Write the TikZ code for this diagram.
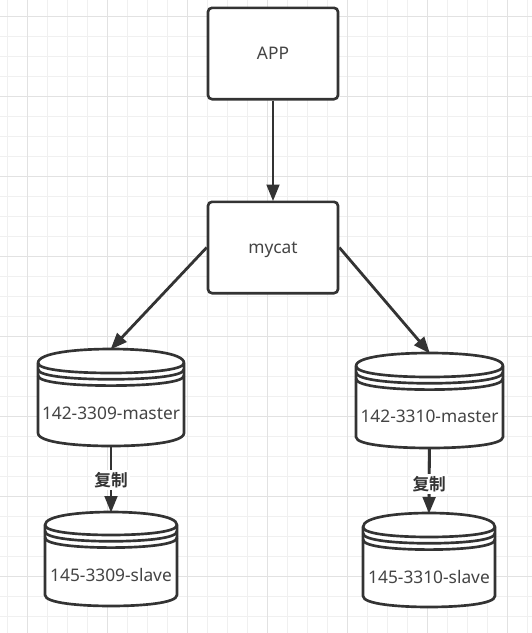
\documentclass[tikz,border=0pt]{standalone}
\usepackage{fontspec}
\setmainfont{Noto Sans}
\newfontfamily\cjkbold{Noto Sans CJK SC Bold}
\usetikzlibrary{arrows.meta}
\definecolor{ink}{HTML}{333333}
\definecolor{txt}{HTML}{444444}
\definecolor{gridminor}{HTML}{F0F0F0}
\definecolor{gridmajor}{HTML}{E2E2E2}
\tikzset{
  x=0.75pt,y=-0.75pt,
  shapeline/.style={draw=ink,line width=2pt,line join=round},
  box/.style={shapeline,fill=white,rounded corners=3pt,minimum width=97.5pt,minimum height=68.5pt,inner sep=0pt,font=\fontsize{13}{15}\selectfont,text=txt,text height=9.5pt,text depth=0.5pt},
  dbtext/.style={inner sep=0pt,font=\fontsize{13}{15}\selectfont,text=txt},
  link/.style={draw=ink,line width=2.1pt,-{Triangle[length=12.5pt,width=9.5pt]},shorten >=-0.5pt},
  edgetext/.style={fill=white,inner sep=1.5pt,text=ink,font=\cjkbold\fontsize{12.5}{15}\selectfont},
}
% name, x1, x2, top, side, ellipse bottom, side bottom, bottom
\newcommand{\dbcyl}[8]{%
  \pgfmathsetmacro{\cxx}{(#2+#3)/2}%
  \pgfmathsetmacro{\wk}{0.45*(#3-#2)/2}%
  \pgfmathsetmacro{\cu}{#5-0.75*(#5-#4)}%
  \pgfmathsetmacro{\cd}{#5+0.75*(#6-#5)}%
  \pgfmathsetmacro{\cb}{#7+0.75*(#8-#7)}%
  \draw[shapeline,fill=white] (#2,#5) .. controls (#2,\cu) and (\cxx-\wk,#4) .. (\cxx,#4)
     .. controls (\cxx+\wk,#4) and (#3,\cu) .. (#3,#5) -- (#3,#7)
     .. controls (#3,\cb) and (\cxx+\wk,#8) .. (\cxx,#8)
     .. controls (\cxx-\wk,#8) and (#2,\cb) .. (#2,#7) -- cycle;
  \foreach \off in {0,6.3,12.6}{
    \draw[shapeline] (#2,#5+\off) .. controls (#2,\cd+\off) and (\cxx-\wk,#6+\off) .. (\cxx,#6+\off)
      .. controls (\cxx+\wk,#6+\off) and (#3,\cd+\off) .. (#3,#5+\off);
  }
  \coordinate (#1) at (\cxx,#4);
  \coordinate (#1b) at (\cxx,#8);
}
\begin{document}
\begin{tikzpicture}
\useasboundingbox (0,0) rectangle (532,633);
\fill[white] (0,0) rectangle (532,633);
\foreach \v in {7.5,47.5,67.5,87.5,127.5,147.5,167.5,207.5,227.5,247.5,287.5,307.5,327.5,367.5,387.5,407.5,447.5,467.5,487.5,527.5}
  \draw[gridminor,line width=.75pt] (\v,0) -- (\v,633);
\foreach \h in {36.5,56.5,76.5,116.5,136.5,156.5,196.5,216.5,236.5,276.5,296.5,316.5,356.5,376.5,396.5,436.5,456.5,476.5,516.5,536.5,556.5,596.5,616.5}
  \draw[gridminor,line width=.75pt] (0,\h) -- (532,\h);
\foreach \v in {27.5,107.5,187.5,267.5,347.5,427.5,507.5}
  \draw[gridmajor,line width=.75pt] (\v,0) -- (\v,633);
\foreach \h in {16.5,96.5,176.5,256.5,336.5,416.5,496.5,576.5}
  \draw[gridmajor,line width=.75pt] (0,\h) -- (532,\h);

\node[box] (app) at (273,53.5) {APP};
\node[box] (mycat) at (273,247.5) {mycat};

\dbcyl{m1}{38}{184}{349}{363}{373}{433}{446}
\dbcyl{s1}{45}{177}{512}{525}{535}{595}{606}
\dbcyl{m2}{356}{503}{353}{366}{377}{437}{448}
\dbcyl{s2}{363}{495}{513}{527}{537}{596}{607}

\node[dbtext] (m1t) at (111,413) {142-3309-master};
\node[dbtext] (s1t) at (111,575) {145-3309-slave};
\node[dbtext] (m2t) at (429.5,416) {142-3310-master};
\node[dbtext] (s2t) at (429,577) {145-3310-slave};

\draw[link] (app.south) -- (mycat.north);
\draw[link] (mycat.west) -- (m1);
\draw[link] (mycat.east) -- (m2);
\draw[link] (m1b) -- node[edgetext,pos=.52] (l1) {复制} (s1);
\draw[link] (m2b) -- node[edgetext,pos=.55] (l2) {复制} (s2);
\end{tikzpicture}
\end{document}
